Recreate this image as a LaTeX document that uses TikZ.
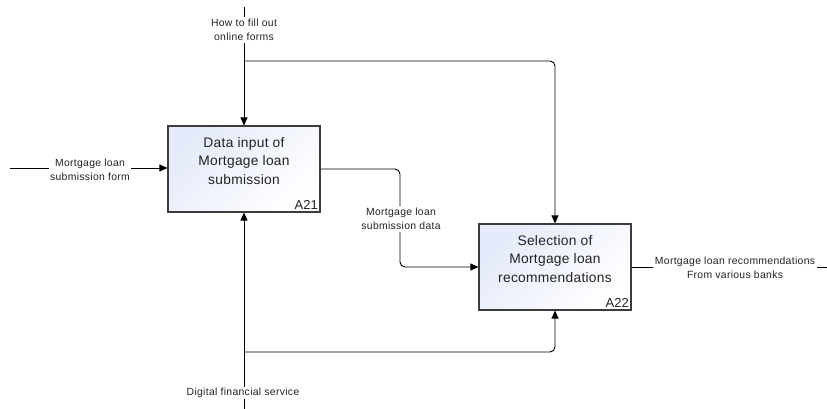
\documentclass[tikz,border=0pt]{standalone}
\usepackage{fontspec}
\setmainfont{Liberation Sans}
\usetikzlibrary{arrows.meta}
\definecolor{boxblue}{RGB}{228,234,249}
\definecolor{boxline}{RGB}{60,60,60}
\definecolor{txt}{RGB}{35,35,35}
\newfontfamily\boxfont[LetterSpace=2]{Liberation Sans}
\newfontfamily\lblfont[LetterSpace=3]{Liberation Sans}
\tikzset{
  box/.style={draw=boxline, line width=1.1pt, minimum width=152pt, minimum height=86pt, inner sep=0pt,
    top color=boxblue, bottom color=white, shading angle=45},
  boxtext/.style={align=center, text=txt, font=\boxfont\fontsize{13.8}{18.5}\selectfont, inner sep=0pt},
  boxid/.style={text=txt, font=\fontsize{13}{15}\selectfont, inner sep=2.5pt, anchor=south east},
  lbl/.style={align=center, text=txt, font=\lblfont\fontsize{10.4}{14.5}\selectfont, fill=white, inner sep=1.5pt},
  conn/.style={line width=0.95pt, draw=black},
  arr/.style={conn, -{Triangle[length=8pt,width=7pt]}},
  rc/.style={rounded corners=5pt}
}
\begin{document}
\begin{tikzpicture}[x=1pt,y=-1pt]
\useasboundingbox (0,0) rectangle (827,409);
% boxes
\node[box] (a21) at (244,169) {};
\node[box] (a22) at (555,267) {};
\node[boxtext] (t21) at (244,161) {Data input of\\Mortgage loan\\submission};
\node[boxtext] (t22) at (555,259) {Selection of\\Mortgage loan\\recommendations};
\node[boxid] (id21) at (a21.south east) {A21};
\node[boxid] (id22) at (a22.south east) {A22};
% coordinates for free ends
\coordinate (ctop) at (244,7);
\coordinate (cbr) at (244,61);
\coordinate (in) at (10,168);
\coordinate (mbot) at (244,409);
\coordinate (mbr) at (244,352);
\coordinate (out) at (827,267);
\coordinate (k1) at (400,169);
\coordinate (k2) at (400,267);
% connectors
\draw[arr] (ctop) -- (a21.north);
\draw[arr, rc] (cbr) -| (a22.north);
\draw[arr] (in) -- (in -| a21.west);
\draw[arr, rc] (a21.east |- k1) -- (k1) -- (k2) -- (a22.west);
\draw[arr] (mbot) -- (a21.south);
\draw[arr, rc] (mbr) -| (a22.south);
\draw[conn] (a22.east) -- (out);
% labels
\node[lbl] (lc) at (244,30) {How to fill out\\online forms};
\node[lbl] (li) at (90,170) {Mortgage loan\\submission form};
\node[lbl] (lo1) at (401,219) {Mortgage loan\\submission data};
\node[lbl] (lm) at (243,393) {Digital financial service};
\node[lbl] (lo2) at (735,268) {Mortgage loan recommendations\\From various banks};
\end{tikzpicture}
\end{document}
